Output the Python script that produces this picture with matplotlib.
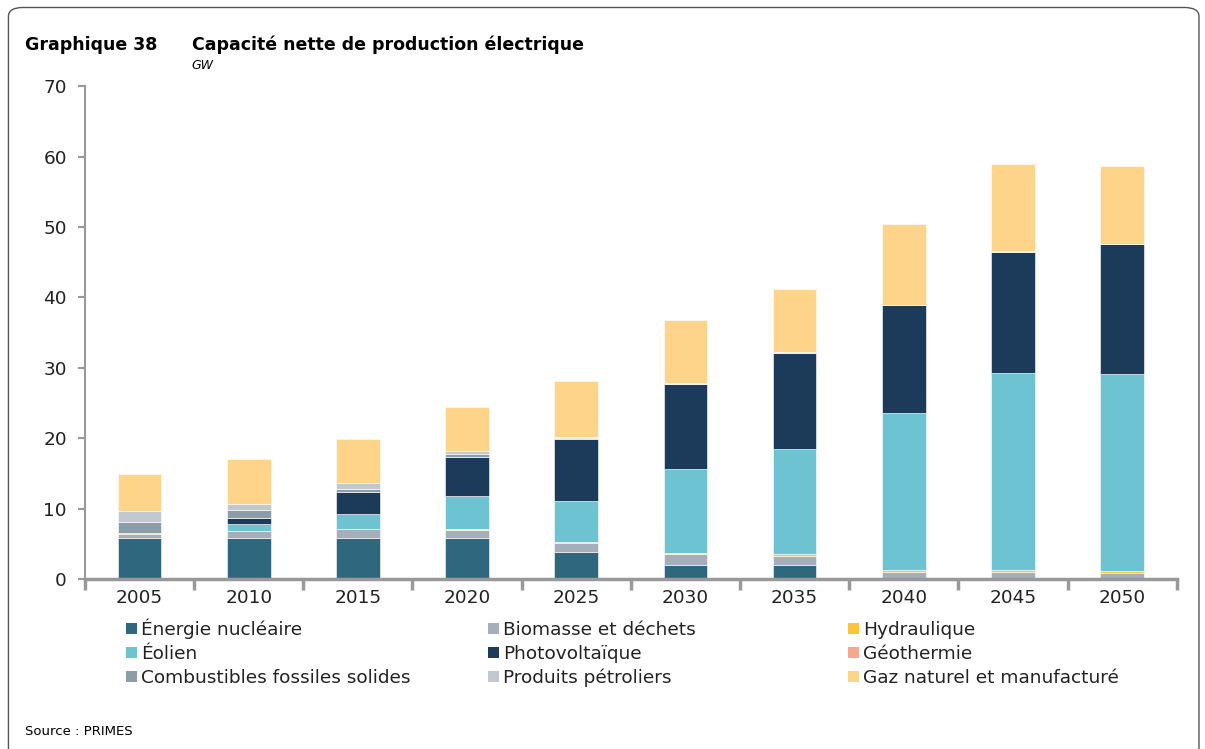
import matplotlib.pyplot as plt
from matplotlib.patches import FancyBboxPatch, Rectangle
import numpy as np

years = ['2005', '2010', '2015', '2020', '2025', '2030', '2035', '2040', '2045', '2050']

# GW par filière (empilés du bas vers le haut)
nucleaire = [5.87, 5.87, 5.87, 5.87, 3.83, 1.99, 1.99, 0.0, 0.0, 0.0]
biomasse = [0.56, 0.90, 1.18, 1.09, 1.33, 1.56, 1.32, 1.04, 0.99, 0.90]
hydraulique = [0.15, 0.10, 0.10, 0.12, 0.14, 0.14, 0.24, 0.29, 0.30, 0.28]
eolien = [0.0, 0.90, 2.05, 4.70, 5.77, 11.97, 14.86, 22.29, 27.90, 27.90]
photovoltaique = [0.0, 0.86, 3.17, 5.50, 8.85, 11.98, 13.63, 15.24, 17.23, 18.46]
geothermie = [0.0, 0.0, 0.0, 0.0, 0.0, 0.0, 0.0, 0.0, 0.0, 0.0]
fossiles_solides = [1.55, 1.20, 0.48, 0.47, 0.10, 0.08, 0.12, 0.05, 0.05, 0.05]
petroliers = [1.56, 0.85, 0.75, 0.42, 0.08, 0.07, 0.12, 0.05, 0.05, 0.05]
gaz = [5.20, 6.30, 6.34, 6.20, 7.97, 8.95, 8.85, 11.40, 12.40, 11.00]

labels = ['Énergie nucléaire', 'Biomasse et déchets', 'Hydraulique',
          'Éolien', 'Photovoltaïque', 'Géothermie',
          'Combustibles fossiles solides', 'Produits pétroliers',
          'Gaz naturel et manufacturé']
series = [nucleaire, biomasse, hydraulique, eolien, photovoltaique,
          geothermie, fossiles_solides, petroliers, gaz]
colors = ['#2e677e', '#a5aebb', '#fbc43a', '#6ec3d3', '#1c3a5a',
          '#f4a98a', '#8b9ea8', '#c1c8d0', '#fed48a']

W, H = 1205, 749
fig = plt.figure(figsize=(W / 100, H / 100), dpi=100)
ax = fig.add_axes([0.0705, 0.227, 0.906, 0.658])

x = np.arange(len(years))
bottom = np.zeros(len(years))
for vals, col in zip(series, colors):
    ax.bar(x, vals, 0.4, bottom=bottom, color=col, edgecolor='white', linewidth=0.4)
    bottom += np.array(vals)

ax.set_ylim(0, 70)
ax.set_xlim(-0.5, len(years) - 0.5)
ax.set_yticks(range(0, 71, 10))
ax.set_xticks(x)
ax.set_xticklabels(years)
ax.set_xticks(np.arange(-0.5, len(years)), minor=True)
ax.tick_params(axis='x', which='major', length=0, labelsize=13.3, pad=7, colors='#222222')
ax.tick_params(axis='x', which='minor', length=8, width=2.5, color='#999999')
ax.tick_params(axis='y', length=5, width=1.5, color='#999999', labelsize=13.3, pad=8, labelcolor='#222222')
for s in ['top', 'right']:
    ax.spines[s].set_visible(False)
ax.spines['left'].set_color('#999999')
ax.spines['left'].set_linewidth(1.5)
ax.spines['bottom'].set_color('#999999')
ax.spines['bottom'].set_linewidth(2.5)

# légende dessinée à la main : 3 colonnes x 3 lignes
col_x = [126, 488, 848]
row_y = [628, 652, 676]
for i, (lab, col) in enumerate(zip(labels, colors)):
    cx = col_x[i % 3]
    cy = row_y[i // 3]
    fig.patches.append(Rectangle((cx / W, 1 - (cy + 6) / H), 11 / W, 11 / H,
                                 transform=fig.transFigure, facecolor=col, edgecolor='none'))
    fig.text((cx + 15) / W, 1 - (cy + 7) / H, lab, fontsize=13.3, va='baseline',
             color='#222222')

fig.text(0.021, 0.94, 'Graphique 38', fontsize=12.5, fontweight='bold', va='center')
fig.text(0.159, 0.94, 'Capacité nette de production électrique', fontsize=12.5,
         fontweight='bold', va='center')
fig.text(0.159, 0.913, 'GW', fontsize=9, style='italic', va='center')
fig.text(0.021, 0.023, 'Source : PRIMES', fontsize=9.5, va='center')

frame = FancyBboxPatch((0.007, -0.05), 0.988, 1.04, boxstyle='round,pad=0,rounding_size=0.012',
                       transform=fig.transFigure, fill=False, edgecolor='#555555', linewidth=1)
fig.patches.append(frame)

fig.savefig('out.png', dpi=100)
